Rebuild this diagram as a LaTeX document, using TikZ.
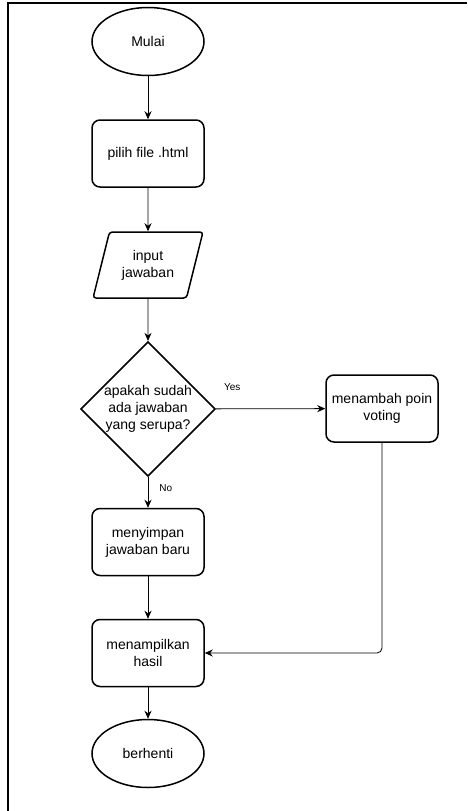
\documentclass[tikz,border=0pt]{standalone}
\usepackage{fontspec}
\setmainfont{Liberation Sans}
\usetikzlibrary{shapes.geometric,arrows.meta}

\begin{document}
\begin{tikzpicture}[x=1pt, y=-1pt, >={Stealth[length=8pt,width=7pt]},
  every node/.style={font=\fontsize{14}{16.8}\selectfont, align=center},
  terminal/.style={draw, ellipse, line width=1.5pt, minimum width=112pt, minimum height=68pt},
  proses/.style={draw, rectangle, rounded corners=8pt, line width=1.5pt, minimum width=112pt, minimum height=67pt},
  io/.style={draw, trapezium, trapezium left angle=71, trapezium right angle=109, trapezium stretches=true, rounded corners=3pt, line width=1.5pt, minimum width=110pt, minimum height=66pt},
  keputusan/.style={draw, diamond, inner sep=0pt, line width=1.5pt, minimum width=134pt, minimum height=132pt},
  ket/.style={font=\fontsize{10}{12}\selectfont, inner sep=0pt}]
\useasboundingbox (0,0) rectangle (467,811);
\draw[line width=1.2pt] (8,811) -- (8,3) -- (467,3);

\node[terminal] (mulai) at (148,41.5) {Mulai};
\node[proses] (pilih) at (148,153.5) {pilih file .html};
\node[io] (input) at (148,265) {input\\jawaban};
\node[keputusan] (cek) at (148,409) {apakah sudah\\ada jawaban\\yang serupa?};
\node[proses] (voting) at (382,408.5) {menambah poin\\voting};
\node[proses] (simpan) at (148,542) {menyimpan\\jawaban baru};
\node[proses] (tampil) at (148,653) {menampilkan\\hasil};
\node[terminal] (berhenti) at (148,753.5) {berhenti};

\draw[->, thick] (mulai) -- (pilih);
\draw[->, thick] (pilih) -- (input);
\draw[->, thick] (input) -- (cek);
\draw[->, thick] (cek) -- (voting) node[ket, pos=0.15, above=18pt] {Yes};
\draw[->, thick] (cek) -- (simpan) node[ket, pos=0.36, right=11pt] {No};
\draw[->, thick] (simpan) -- (tampil);
\draw[->, thick, rounded corners=5pt] (voting) |- (tampil);
\draw[->, thick] (tampil) -- (berhenti);
\end{tikzpicture}
\end{document}
